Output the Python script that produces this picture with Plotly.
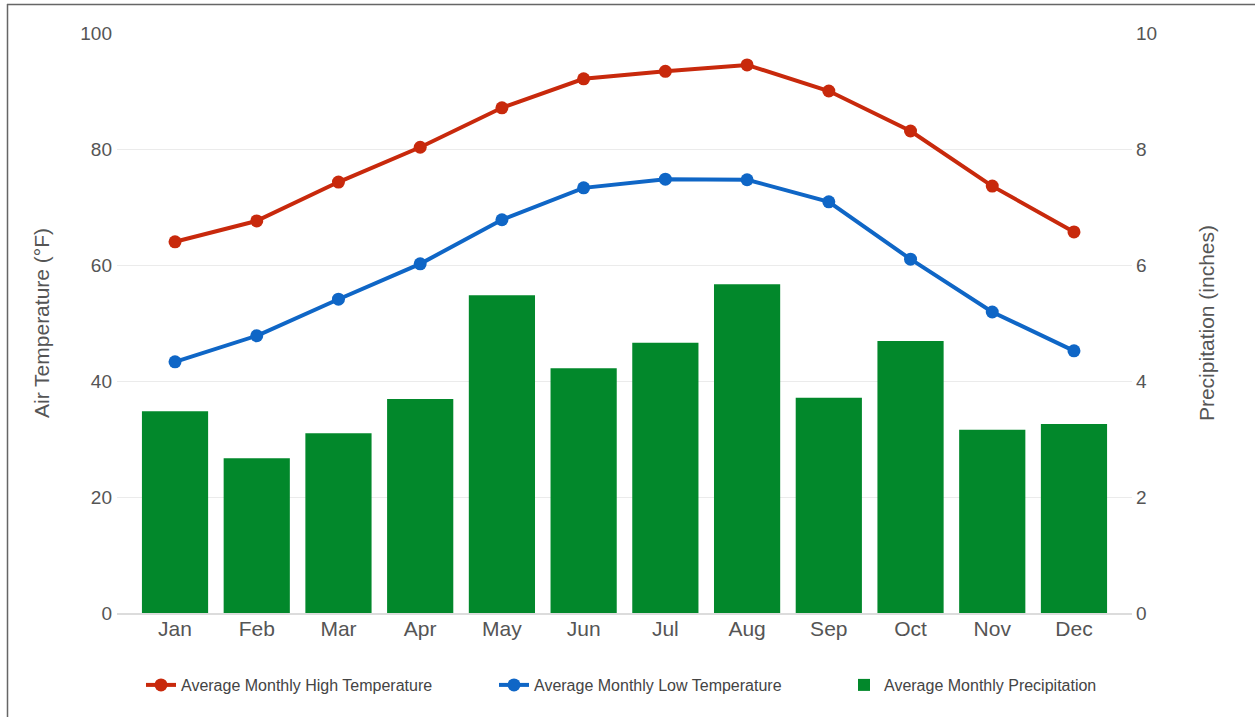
import plotly.graph_objects as go

months = ["Jan", "Feb", "Mar", "Apr", "May", "Jun", "Jul", "Aug", "Sep", "Oct", "Nov", "Dec"]
high_temp = [64.0, 67.6, 74.3, 80.3, 87.1, 92.1, 93.4, 94.5, 90.0, 83.1, 73.6, 65.7]
low_temp = [43.3, 47.8, 54.1, 60.2, 67.8, 73.3, 74.8, 74.7, 70.9, 61.0, 51.9, 45.2]
precip = [3.48, 2.67, 3.10, 3.69, 5.48, 4.22, 4.66, 5.67, 3.71, 4.69, 3.16, 3.26]

temp_ticks = [0, 20, 40, 60, 80, 100]
precip_ticks = [0, 2, 4, 6, 8, 10]

RED = "#c8290c"
BLUE = "#0f66c6"
GREEN = "#02882b"
FONT = "Liberation Sans, Arial, sans-serif"

x_idx = list(range(len(months)))

fig = go.Figure()
fig.add_trace(go.Bar(
    x=x_idx, y=precip, name="Average Monthly Precipitation",
    marker=dict(color=GREEN, line=dict(width=0)), yaxis="y",
    legend="legend3",
))
fig.add_trace(go.Scatter(
    x=x_idx, y=high_temp, name="Average Monthly High Temperature",
    mode="lines+markers", line=dict(color=RED, width=4),
    marker=dict(color=RED, size=13), yaxis="y2", legend="legend",
))
fig.add_trace(go.Scatter(
    x=x_idx, y=low_temp, name="Average Monthly Low Temperature",
    mode="lines+markers", line=dict(color=BLUE, width=4),
    marker=dict(color=BLUE, size=13), yaxis="y2", legend="legend2",
))

W, H = 1255, 717
L, R, T, B = 117, 123, 33, 104
pw = W - L - R
ph = H - T - B

def px_x(p):
    return (p - L) / pw

def px_y(p):
    return (H - B - p) / ph

def make_legend(left_px):
    return dict(
        orientation="h", x=px_x(left_px), xanchor="left",
        y=px_y(685), yanchor="middle",
        font=dict(size=16, color="#444444", family=FONT),
        bgcolor="rgba(0,0,0,0)",
    )

fig.update_layout(
    width=W, height=H,
    margin=dict(l=L, r=R, t=T, b=B, autoexpand=False),
    paper_bgcolor="white", plot_bgcolor="white",
    font=dict(family=FONT, color="#555555"),
    bargap=0.19,
    showlegend=True,
    legend=make_legend(141),
    legend2=make_legend(494),
    legend3=make_legend(844),
    xaxis=dict(
        tickmode="array", tickvals=x_idx, ticktext=months,
        range=[-0.71, 11.71], showgrid=False, zeroline=False,
        showline=True, linecolor="#dcdcdc", linewidth=2,
        tickfont=dict(size=21, color="#555555"), ticks="",
        ticklabelstandoff=-4,
    ),
    yaxis=dict(
        side="right", range=[0, 10], tickvals=precip_ticks,
        showgrid=True, gridcolor="#ebebeb", gridwidth=1, zeroline=False,
        tickfont=dict(size=19, color="#555555"), ticklabelstandoff=3,
        title=dict(text="Precipitation (inches)", font=dict(size=21, color="#555555"), standoff=43),
        ticks="",
    ),
    yaxis2=dict(
        side="left", overlaying="y", range=[0, 100], tickvals=temp_ticks,
        showgrid=False, zeroline=False,
        tickfont=dict(size=19, color="#555555"), ticklabelstandoff=4,
        title=dict(text="Air Temperature (°F)", font=dict(size=21, color="#555555"), standoff=24),
        ticks="",
    ),
    shapes=[
        dict(type="line", xref="paper", yref="paper",
             x0=px_x(7), x1=px_x(W + 5), y0=px_y(4.5), y1=px_y(4.5),
             line=dict(color="#666666", width=1.5)),
        dict(type="line", xref="paper", yref="paper",
             x0=px_x(7.5), x1=px_x(7.5), y0=px_y(4), y1=px_y(H + 5),
             line=dict(color="#666666", width=1.5)),
    ],
)

fig.write_html(
    "out.html",
    config={"displayModeBar": False},
    post_script="document.body.style.margin='0';document.body.style.overflow='hidden';",
)
